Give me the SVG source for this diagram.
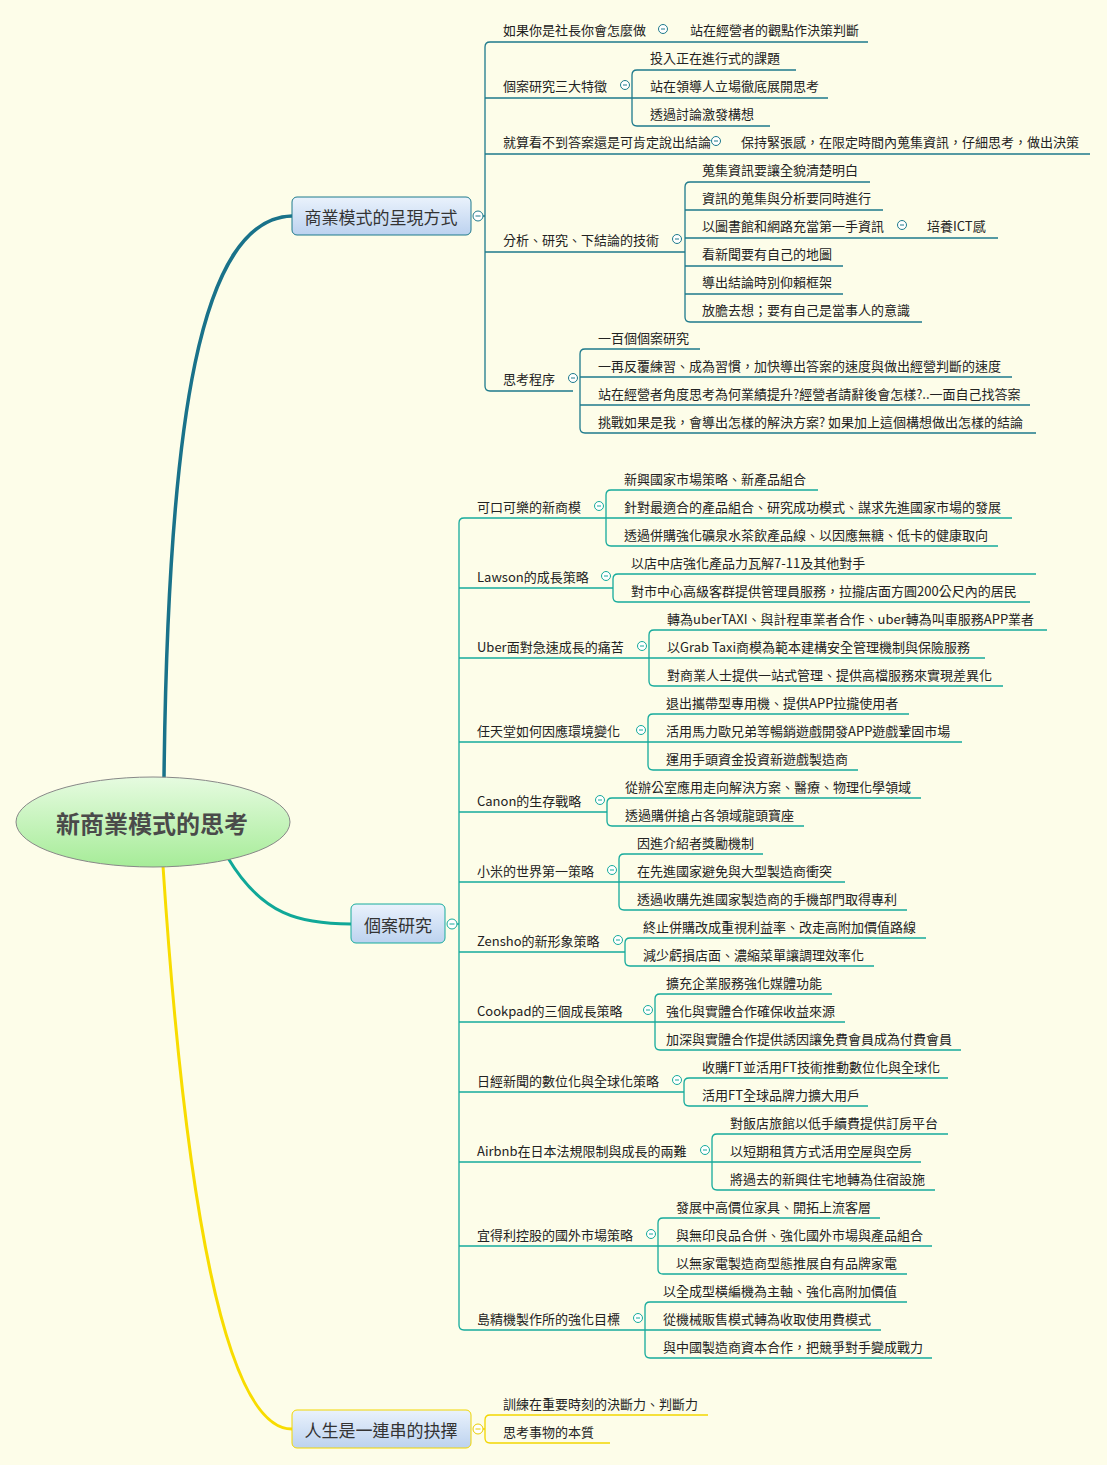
<svg xmlns="http://www.w3.org/2000/svg" width="1107" height="1465" viewBox="0 0 1107 1465">
<defs>
<linearGradient id="gc" x1="0" y1="0" x2="0" y2="1"><stop offset="0" stop-color="#e6fbe0"/><stop offset="1" stop-color="#a6ec98"/></linearGradient>
<linearGradient id="gb" x1="0" y1="0" x2="0" y2="1"><stop offset="0" stop-color="#eaf2fc"/><stop offset="1" stop-color="#bcd2ef"/></linearGradient>
<style>
text{font-family:"Noto Sans CJK TC","Noto Sans",sans-serif;font-size:13px;fill:#222;dominant-baseline:central}
.a{fill:none;stroke:#1e7a8c;stroke-width:1.3}
.b{fill:none;stroke:#16ab9c;stroke-width:1.3}
.c{fill:none;stroke:#f2d600;stroke-width:1.3}
.ca{fill:#fff;stroke:#1e7a8c}.cb{fill:#fff;stroke:#16ab9c}.cc{fill:#fff;stroke:#e8cc00}
.m{font-size:17px;fill:#333}
</style>
</defs>
<rect width="1107" height="1465" fill="#fdfde9"/>
<g id="connectors">
<path d="M164,778 C168,420 200,218 292,216" fill="none" stroke="#19728a" stroke-width="3.5"/>
<path d="M228,858 C262,915 300,924 351,924" fill="none" stroke="#10a898" stroke-width="3"/>
<path d="M163,866 C185,1200 225,1429 292,1429" fill="none" stroke="#f8dc00" stroke-width="3"/>
<!-- branch 1 -->
<path class="a" d="M483,216H485M485,47Q485,42 490,42H868M485,47V386Q485,391 490,391H573M485,98H632M485,154H1090M485,252H685"/>
<path class="a" d="M632,75Q632,70 637,70H796M632,98H828M632,121Q632,126 637,126H770M632,75V121"/>
<path class="a" d="M685,187Q685,182 690,182H870M685,210H883M685,238H998M685,266H843M685,294H843M685,317Q685,322 690,322H922M685,187V317"/>
<path class="a" d="M580,354Q580,349 585,349H700M580,377H1012M580,405H1030M580,428Q580,433 585,433H1036M580,354V428"/>
<!-- branch 2 -->
<path class="b" d="M457,924H459M459,523Q459,518 464,518H606M459,523V1325Q459,1330 464,1330H645M459,588H613M459,658H649M459,742H648M459,812H607M459,882H619M459,952H625M459,1022H655M459,1092H684M459,1162H712M459,1246H658"/>
<path class="b" d="M606,495Q606,490 611,490H818M606,518H1012M606,541Q606,546 611,546H998M606,495V541"/>
<path class="b" d="M613,579Q613,574 618,574H1036M613,597Q613,602 618,602H1030M613,579V597"/>
<path class="b" d="M649,635Q649,630 654,630H1047M649,658H985M649,681Q649,686 654,686H1003M649,635V681"/>
<path class="b" d="M648,719Q648,714 653,714H909M648,742H962M648,765Q648,770 653,770H858M648,719V765"/>
<path class="b" d="M607,803Q607,798 612,798H921M607,821Q607,826 612,826H804M607,803V821"/>
<path class="b" d="M619,859Q619,854 624,854H763M619,882H845M619,905Q619,910 624,910H907M619,859V905"/>
<path class="b" d="M625,943Q625,938 630,938H926M625,961Q625,966 630,966H874M625,943V961"/>
<path class="b" d="M655,999Q655,994 660,994H832M655,1022H845M655,1045Q655,1050 660,1050H961M655,999V1045"/>
<path class="b" d="M684,1083Q684,1078 689,1078H948M684,1101Q684,1106 689,1106H868M684,1083V1101"/>
<path class="b" d="M712,1139Q712,1134 717,1134H948M712,1162H921M712,1185Q712,1190 717,1190H935M712,1139V1185"/>
<path class="b" d="M658,1223Q658,1218 663,1218H880M658,1246H932M658,1269Q658,1274 663,1274H907M658,1223V1269"/>
<path class="b" d="M645,1307Q645,1302 650,1302H907M645,1330H881M645,1353Q645,1358 650,1358H932M645,1307V1353"/>
<!-- branch 3 -->
<path class="c" d="M483,1429H485M485,1420Q485,1415 490,1415H708M485,1438Q485,1443 490,1443H610M485,1420V1438"/>
</g>
<g id="root"><ellipse cx="153" cy="822" rx="137" ry="45" fill="url(#gc)" stroke="#888"/><text x="152" y="822" text-anchor="middle" style="font-size:24px;font-weight:bold;fill:#4a4a4a">新商業模式的思考</text></g>
<g id="n1"><rect x="292" y="197" width="179" height="38" rx="5" fill="url(#gb)" stroke="#1e7a8c"/><text class="m" x="381" y="216" text-anchor="middle">商業模式的呈現方式</text><circle class="ca" cx="478" cy="216" r="5"/><path d="M475.5,216h5" stroke="#1e7a8c"/></g>
<g id="n2"><rect x="351" y="904" width="94" height="39" rx="5" fill="url(#gb)" stroke="#16ab9c"/><text class="m" x="398" y="924" text-anchor="middle">個案研究</text><circle class="cb" cx="452" cy="924" r="5"/><path d="M449.5,924h5" stroke="#16ab9c"/></g>
<g id="n3"><rect x="292" y="1410" width="179" height="38" rx="5" fill="url(#gb)" stroke="#f2d600"/><text class="m" x="381" y="1429" text-anchor="middle">人生是一連串的抉擇</text><circle class="cc" cx="478" cy="1429" r="5"/><path d="M475.5,1429h5" stroke="#e8cc00"/></g>
<g id="b1-items">
<text x="503" y="29">如果你是社長你會怎麼做</text><circle class="ca" cx="663" cy="29" r="4.5"/><path d="M661,29h4" stroke="#1e7a8c"/><text x="690" y="29">站在經營者的觀點作決策判斷</text>
<text x="503" y="85">個案研究三大特徵</text><circle class="ca" cx="625" cy="85" r="4.5"/><path d="M623,85h4" stroke="#1e7a8c"/>
<text x="650" y="57">投入正在進行式的課題</text><text x="650" y="85">站在領導人立場徹底展開思考</text><text x="650" y="113">透過討論激發構想</text>
<text x="503" y="141">就算看不到答案還是可肯定說出結論</text><circle class="ca" cx="716" cy="141" r="4.5"/><path d="M714,141h4" stroke="#1e7a8c"/><text x="741" y="141">保持緊張感，在限定時間內蒐集資訊，仔細思考，做出決策</text>
<text x="503" y="239">分析、研究、下結論的技術</text><circle class="ca" cx="677" cy="239" r="4.5"/><path d="M675,239h4" stroke="#1e7a8c"/>
<text x="702" y="169">蒐集資訊要讓全貌清楚明白</text><text x="702" y="197">資訊的蒐集與分析要同時進行</text><text x="702" y="225">以圖書館和網路充當第一手資訊</text><circle class="ca" cx="902" cy="225" r="4.5"/><path d="M900,225h4" stroke="#1e7a8c"/><text x="927" y="225">培養ICT感</text>
<text x="702" y="253">看新聞要有自己的地圖</text><text x="702" y="281">導出結論時別仰賴框架</text><text x="702" y="309">放膽去想；要有自己是當事人的意識</text>
<text x="503" y="378">思考程序</text><circle class="ca" cx="573" cy="378" r="4.5"/><path d="M571,378h4" stroke="#1e7a8c"/>
<text x="598" y="337">一百個個案研究</text><text x="598" y="365">一再反覆練習、成為習慣，加快導出答案的速度與做出經營判斷的速度</text><text x="598" y="393">站在經營者角度思考為何業績提升?經營者請辭後會怎樣?..一面自己找答案</text><text x="598" y="421">挑戰如果是我，會導出怎樣的解決方案? 如果加上這個構想做出怎樣的結論</text>
</g>
<g id="b2-items">
<text x="477" y="506">可口可樂的新商模</text><circle class="cb" cx="599" cy="506" r="4.5"/><path d="M597,506h4" stroke="#16ab9c"/>
<text x="624" y="478">新興國家市場策略、新產品組合</text><text x="624" y="506">針對最適合的產品組合、研究成功模式、謀求先進國家市場的發展</text><text x="624" y="534">透過併購強化礦泉水茶飲產品線、以因應無糖、低卡的健康取向</text>
<text x="477" y="576">Lawson的成長策略</text><circle class="cb" cx="606" cy="576" r="4.5"/><path d="M604,576h4" stroke="#16ab9c"/>
<text x="631" y="562">以店中店強化產品力瓦解7-11及其他對手</text><text x="631" y="590">對市中心高級客群提供管理員服務，拉攏店面方圓200公尺內的居民</text>
<text x="477" y="646">Uber面對急速成長的痛苦</text><circle class="cb" cx="642" cy="646" r="4.5"/><path d="M640,646h4" stroke="#16ab9c"/>
<text x="667" y="618">轉為uberTAXI、與計程車業者合作、uber轉為叫車服務APP業者</text><text x="667" y="646">以Grab Taxi商模為範本建構安全管理機制與保險服務</text><text x="667" y="674">對商業人士提供一站式管理、提供高檔服務來實現差異化</text>
<text x="477" y="730">任天堂如何因應環境變化</text><circle class="cb" cx="641" cy="730" r="4.5"/><path d="M639,730h4" stroke="#16ab9c"/>
<text x="666" y="702">退出攜帶型專用機、提供APP拉攏使用者</text><text x="666" y="730">活用馬力歐兄弟等暢銷遊戲開發APP遊戲鞏固市場</text><text x="666" y="758">運用手頭資金投資新遊戲製造商</text>
<text x="477" y="800">Canon的生存戰略</text><circle class="cb" cx="600" cy="800" r="4.5"/><path d="M598,800h4" stroke="#16ab9c"/>
<text x="625" y="786">從辦公室應用走向解決方案、醫療、物理化學領域</text><text x="625" y="814">透過購併搶占各領域龍頭寶座</text>
<text x="477" y="870">小米的世界第一策略</text><circle class="cb" cx="612" cy="870" r="4.5"/><path d="M610,870h4" stroke="#16ab9c"/>
<text x="637" y="842">因進介紹者獎勵機制</text><text x="637" y="870">在先進國家避免與大型製造商衝突</text><text x="637" y="898">透過收購先進國家製造商的手機部門取得專利</text>
<text x="477" y="940">Zensho的新形象策略</text><circle class="cb" cx="618" cy="940" r="4.5"/><path d="M616,940h4" stroke="#16ab9c"/>
<text x="643" y="926">終止併購改成重視利益率、改走高附加價值路線</text><text x="643" y="954">減少虧損店面、濃縮菜單讓調理效率化</text>
<text x="477" y="1010">Cookpad的三個成長策略</text><circle class="cb" cx="648" cy="1010" r="4.5"/><path d="M646,1010h4" stroke="#16ab9c"/>
<text x="666" y="982">擴充企業服務強化媒體功能</text><text x="666" y="1010">強化與實體合作確保收益來源</text><text x="666" y="1038">加深與實體合作提供誘因讓免費會員成為付費會員</text>
<text x="477" y="1080">日經新聞的數位化與全球化策略</text><circle class="cb" cx="677" cy="1080" r="4.5"/><path d="M675,1080h4" stroke="#16ab9c"/>
<text x="702" y="1066">收購FT並活用FT技術推動數位化與全球化</text><text x="702" y="1094">活用FT全球品牌力擴大用戶</text>
<text x="477" y="1150">Airbnb在日本法規限制與成長的兩難</text><circle class="cb" cx="705" cy="1150" r="4.5"/><path d="M703,1150h4" stroke="#16ab9c"/>
<text x="730" y="1122">對飯店旅館以低手續費提供訂房平台</text><text x="730" y="1150">以短期租賃方式活用空屋與空房</text><text x="730" y="1178">將過去的新興住宅地轉為住宿設施</text>
<text x="477" y="1234">宜得利控股的國外市場策略</text><circle class="cb" cx="651" cy="1234" r="4.5"/><path d="M649,1234h4" stroke="#16ab9c"/>
<text x="676" y="1206">發展中高價位家具、開拓上流客層</text><text x="676" y="1234">與無印良品合併、強化國外市場與產品組合</text><text x="676" y="1262">以無家電製造商型態推展自有品牌家電</text>
<text x="477" y="1318">島精機製作所的強化目標</text><circle class="cb" cx="638" cy="1318" r="4.5"/><path d="M636,1318h4" stroke="#16ab9c"/>
<text x="663" y="1290">以全成型橫編機為主軸、強化高附加價值</text><text x="663" y="1318">從機械販售模式轉為收取使用費模式</text><text x="663" y="1346">與中國製造商資本合作，把競爭對手變成戰力</text>
</g>
<g id="b3-items">
<text x="503" y="1403">訓練在重要時刻的決斷力、判斷力</text><text x="503" y="1431">思考事物的本質</text>
</g>
</svg>
